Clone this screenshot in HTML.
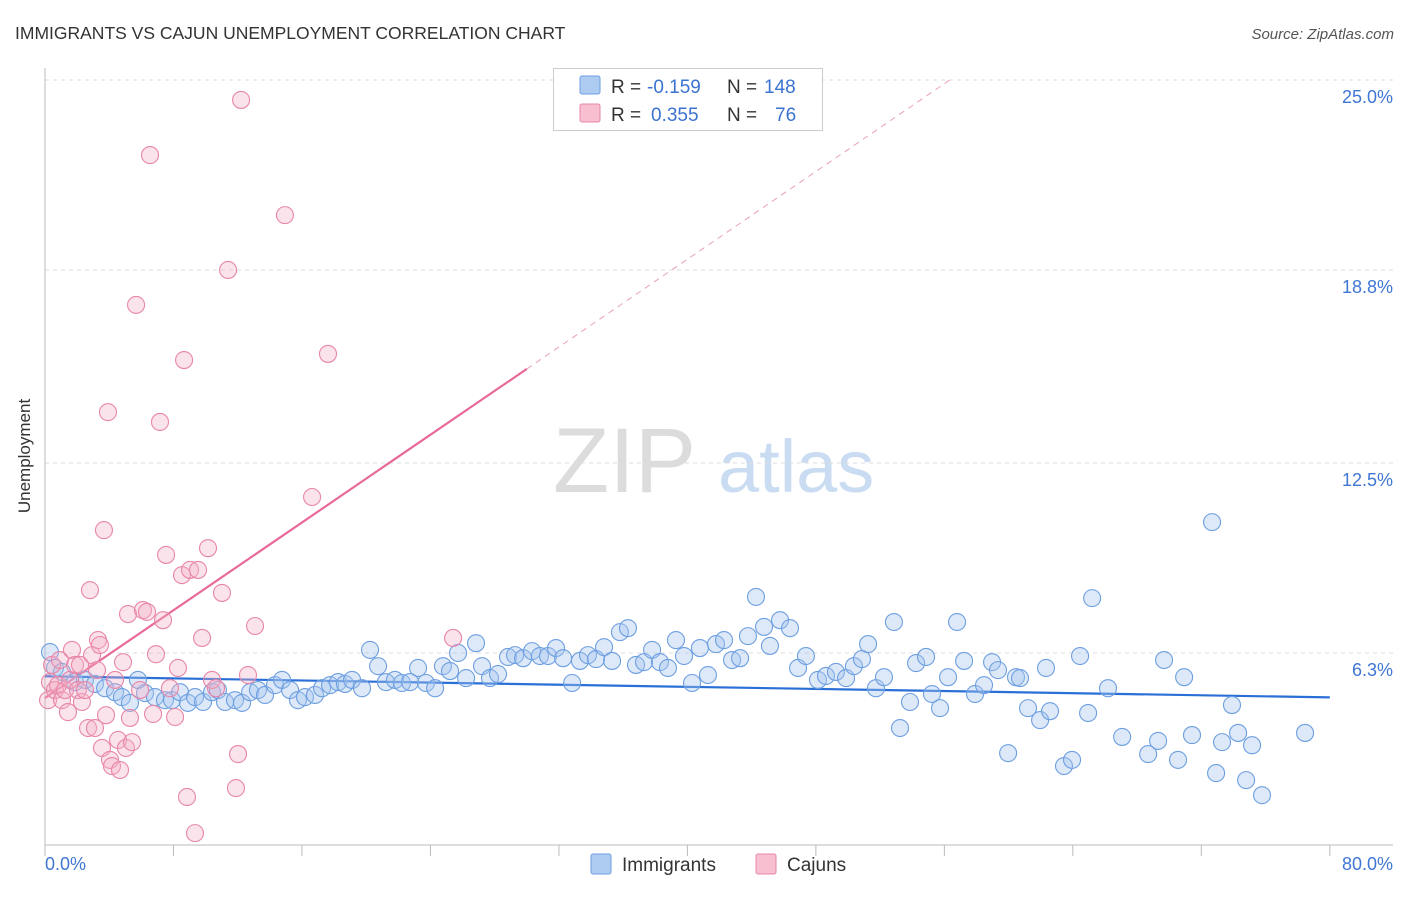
<!DOCTYPE html>
<html><head><meta charset="utf-8"><style>
body{margin:0;background:#fff;font-family:"Liberation Sans",sans-serif;}
svg text{font-family:"Liberation Sans",sans-serif;}
</style></head><body>
<svg id="chart" width="1406" height="892" viewBox="0 0 1406 892">
<text x="15" y="39" font-size="17.5" fill="#333">IMMIGRANTS VS CAJUN UNEMPLOYMENT CORRELATION CHART</text>
<text x="1394" y="39" font-size="15" fill="#555" font-style="italic" text-anchor="end">Source: ZipAtlas.com</text>
<text x="30" y="456" font-size="17" fill="#333" transform="rotate(-90 30 456)" text-anchor="middle">Unemployment</text>
<g>
<text x="553" y="492" font-size="92" fill="#dcdcdc" font-family="Liberation Serif,serif">ZIP</text>
<text x="718" y="492" font-size="74" fill="#c9dcf2">atlas</text>
</g>
<g id="grid"></g>
<g id="axes"></g>
<g id="trends"></g>
<g id="pts"></g>
<g>
<rect x="553.5" y="68.5" width="269" height="62" fill="#fff" stroke="#ccc"/>
<rect x="580" y="76" width="20" height="18" fill="#aecbf2" stroke="#6d9fe0" rx="2"/>
<rect x="580" y="104" width="20" height="18" fill="#f7bfd0" stroke="#e886a8" rx="2"/>
<text x="611" y="93" font-size="19" fill="#333">R =</text>
<text x="647" y="93" font-size="19" fill="#3b73d1">-0.159</text>
<text x="727" y="93" font-size="19" fill="#333">N =</text>
<text x="764" y="93" font-size="19" fill="#3b73d1">148</text>
<text x="611" y="121" font-size="19" fill="#333">R =</text>
<text x="651" y="121" font-size="19" fill="#3b73d1">0.355</text>
<text x="727" y="121" font-size="19" fill="#333">N =</text>
<text x="775" y="121" font-size="19" fill="#3b73d1">76</text>
</g>
<g>
<rect x="591" y="854" width="20" height="20" fill="#aecbf2" stroke="#6d9fe0" rx="2"/>
<text x="622" y="871" font-size="19" fill="#333">Immigrants</text>
<rect x="756" y="854" width="20" height="20" fill="#f7bfd0" stroke="#e886a8" rx="2"/>
<text x="787" y="871" font-size="19" fill="#333">Cajuns</text>
</g>
</svg>
<script>
const yTicks=[25.0,18.8,12.5,6.3];
const yTickLabels=["25.0%","18.8%","12.5%","6.3%"];
const xTickLabels=["0.0%","80.0%"];
const blueX=[0.31,0.62,1.06,1.87,2.49,3.11,3.74,4.36,4.79,5.29,5.79,6.23,6.85,7.47,7.91,8.41,8.90,9.34,9.84,10.40,10.77,11.21,11.83,12.27,12.77,13.26,13.70,14.32,14.76,15.26,15.75,16.19,16.81,17.25,17.75,18.25,18.68,19.12,19.74,20.24,20.74,21.23,21.79,22.23,22.73,23.23,23.72,24.29,24.78,25.22,25.72,26.22,26.84,27.21,27.71,28.21,28.83,29.27,29.77,30.33,30.82,31.32,31.82,32.26,32.82,33.31,33.81,34.31,34.81,35.31,35.80,36.30,36.80,37.30,37.80,38.29,38.79,39.29,39.79,40.29,40.78,41.28,41.78,42.28,42.78,43.28,43.77,44.27,44.77,45.14,45.77,46.39,46.89,47.38,48.13,48.63,49.25,49.88,50.37,50.87,51.25,51.74,52.24,52.86,53.24,53.86,54.24,54.86,55.23,55.73,56.23,56.79,57.23,57.91,58.47,58.97,59.34,59.97,60.46,60.71,61.21,61.96,62.33,62.58,63.45,63.95,64.45,64.95,65.20,66.19,67.07,68.69,69.31,69.68,70.55,70.93,71.42,72.67,72.92,73.29,73.91,74.29,74.79,75.16,75.78,78.46];
const blueY=[6.33,5.81,5.68,5.35,5.42,5.29,5.15,5.02,4.86,4.67,5.42,4.99,4.86,4.76,4.76,5.02,4.67,4.86,4.70,5.02,5.09,4.70,4.76,4.67,5.02,5.09,4.93,5.25,5.42,5.09,4.76,4.86,4.93,5.15,5.25,5.35,5.29,5.42,5.15,6.40,5.87,5.35,5.42,5.32,5.35,5.81,5.32,5.15,5.87,5.71,6.30,5.48,6.62,5.87,5.48,5.61,6.17,6.23,6.13,6.36,6.20,6.20,6.46,6.13,5.32,6.04,6.23,6.10,6.49,6.04,6.98,7.11,5.91,6.00,6.40,6.00,5.81,6.72,6.20,5.32,6.46,5.58,6.59,6.72,6.07,6.13,6.85,8.13,7.15,6.53,7.37,7.11,5.81,6.20,5.42,5.55,5.68,5.48,5.87,6.10,6.59,5.15,5.51,7.31,3.85,4.70,5.97,6.17,4.96,4.50,5.51,7.31,6.04,4.96,5.25,6.00,5.74,3.03,5.51,5.48,4.50,4.11,5.81,4.40,2.61,2.81,6.20,4.34,8.09,5.15,3.56,3.00,3.43,6.07,2.81,5.51,3.62,10.57,2.38,3.39,4.60,3.69,2.15,3.29,1.66,3.69];
const pinkX=[0.19,0.31,0.44,0.62,0.81,0.93,1.06,1.25,1.43,1.56,1.68,1.87,2.05,2.18,2.30,2.49,2.68,2.80,2.93,3.11,3.24,3.30,3.42,3.55,3.67,3.80,3.92,4.05,4.17,4.36,4.55,4.67,4.86,5.04,5.17,5.29,5.42,5.67,5.92,6.10,6.35,6.54,6.73,6.91,7.16,7.35,7.54,7.78,8.10,8.28,8.53,8.66,8.84,9.03,9.34,9.53,9.78,10.15,10.40,10.65,11.02,11.40,11.89,12.02,12.21,12.64,13.08,14.94,16.63,17.62,25.41];
const pinkY=[4.76,5.35,5.91,5.09,5.25,6.07,4.76,5.09,4.37,5.42,6.40,5.91,5.09,5.91,4.70,5.09,3.85,8.35,6.23,3.85,5.74,6.72,6.56,3.20,10.31,4.27,14.16,2.81,2.61,5.42,3.46,2.48,6.00,3.20,7.57,4.18,3.39,17.66,5.09,7.70,7.64,22.55,4.31,6.26,13.84,7.37,9.50,5.15,4.21,5.81,8.84,15.86,1.60,9.01,0.42,9.01,6.79,9.72,5.42,5.15,8.26,18.80,1.89,3.00,24.35,5.58,7.18,20.59,11.39,16.06,6.79];
const blueTrend=[5.54,4.85];
const pinkTrend=[4.83,0.358];
const pinkSolidEnd=30;

const NS="http://www.w3.org/2000/svg";
const X=v=>45+v*16.06, Y=v=>80+(25-v)*30.64;
function mk(t,a,p){const e=document.createElementNS(NS,t);for(const k in a)e.setAttribute(k,a[k]);p.appendChild(e);return e;}
const grid=document.getElementById('grid'),axes=document.getElementById('axes'),tr=document.getElementById('trends'),pts=document.getElementById('pts');
yTicks.forEach((t,i)=>{
 const l=mk('line',{x1:45,x2:1393,y1:Y(t),y2:Y(t),stroke:'#ddd','stroke-dasharray':'4,4'},grid);
 
 
 const tx=mk('text',{x:1393,y:Y(t)+23,'font-size':18,fill:'#3f76d4','text-anchor':'end'},axes);
 tx.textContent=yTickLabels[i];
 
 
});
let a=mk('line',{x1:45,x2:45,y1:68,y2:845,stroke:'#bbb'},axes);


a=mk('line',{x1:45,x2:1393,y1:845,y2:845,stroke:'#bbb'},axes);


for(let i=0;i<=10;i++){const t=mk('line',{x1:X(i*8),x2:X(i*8),y1:845,y2:856,stroke:'#bbb'},axes);
 
 }
[[0,'start',45],[80,'end',1393]].forEach((d,i)=>{const t=mk('text',{x:d[2],y:870,'font-size':18,fill:'#3f76d4','text-anchor':d[1]},axes);t.textContent=xTickLabels[i];
 
 });
function dot(x,y,fill,stroke,name){const c=mk('circle',{cx:X(x),cy:Y(y),r:8.5,fill:fill,stroke:stroke,'stroke-width':1.1},pts);
 
 }
blueX.forEach((x,i)=>dot(x,blueY[i],'rgba(165,198,240,0.38)','#6d9fe0','immigrants-point'));
pinkX.forEach((x,i)=>dot(x,pinkY[i],'rgba(244,175,198,0.35)','#e886a8','cajuns-point'));
let l=mk('line',{x1:X(0),y1:Y(blueTrend[0]),x2:X(80),y2:Y(blueTrend[1]),stroke:'#2a6fd6','stroke-width':2.2},tr);


const pEnd=(25-pinkTrend[0])/pinkTrend[1];
l=mk('line',{x1:X(pinkSolidEnd),y1:Y(pinkTrend[0]+pinkTrend[1]*pinkSolidEnd),x2:X(pEnd),y2:Y(25),stroke:'#eaa0b8','stroke-width':1,'stroke-dasharray':'6,5'},tr);


l=mk('line',{x1:X(0),y1:Y(pinkTrend[0]),x2:X(pinkSolidEnd),y2:Y(pinkTrend[0]+pinkTrend[1]*pinkSolidEnd),stroke:'#e8699a','stroke-width':2.2},tr);


</script>
</body></html>
